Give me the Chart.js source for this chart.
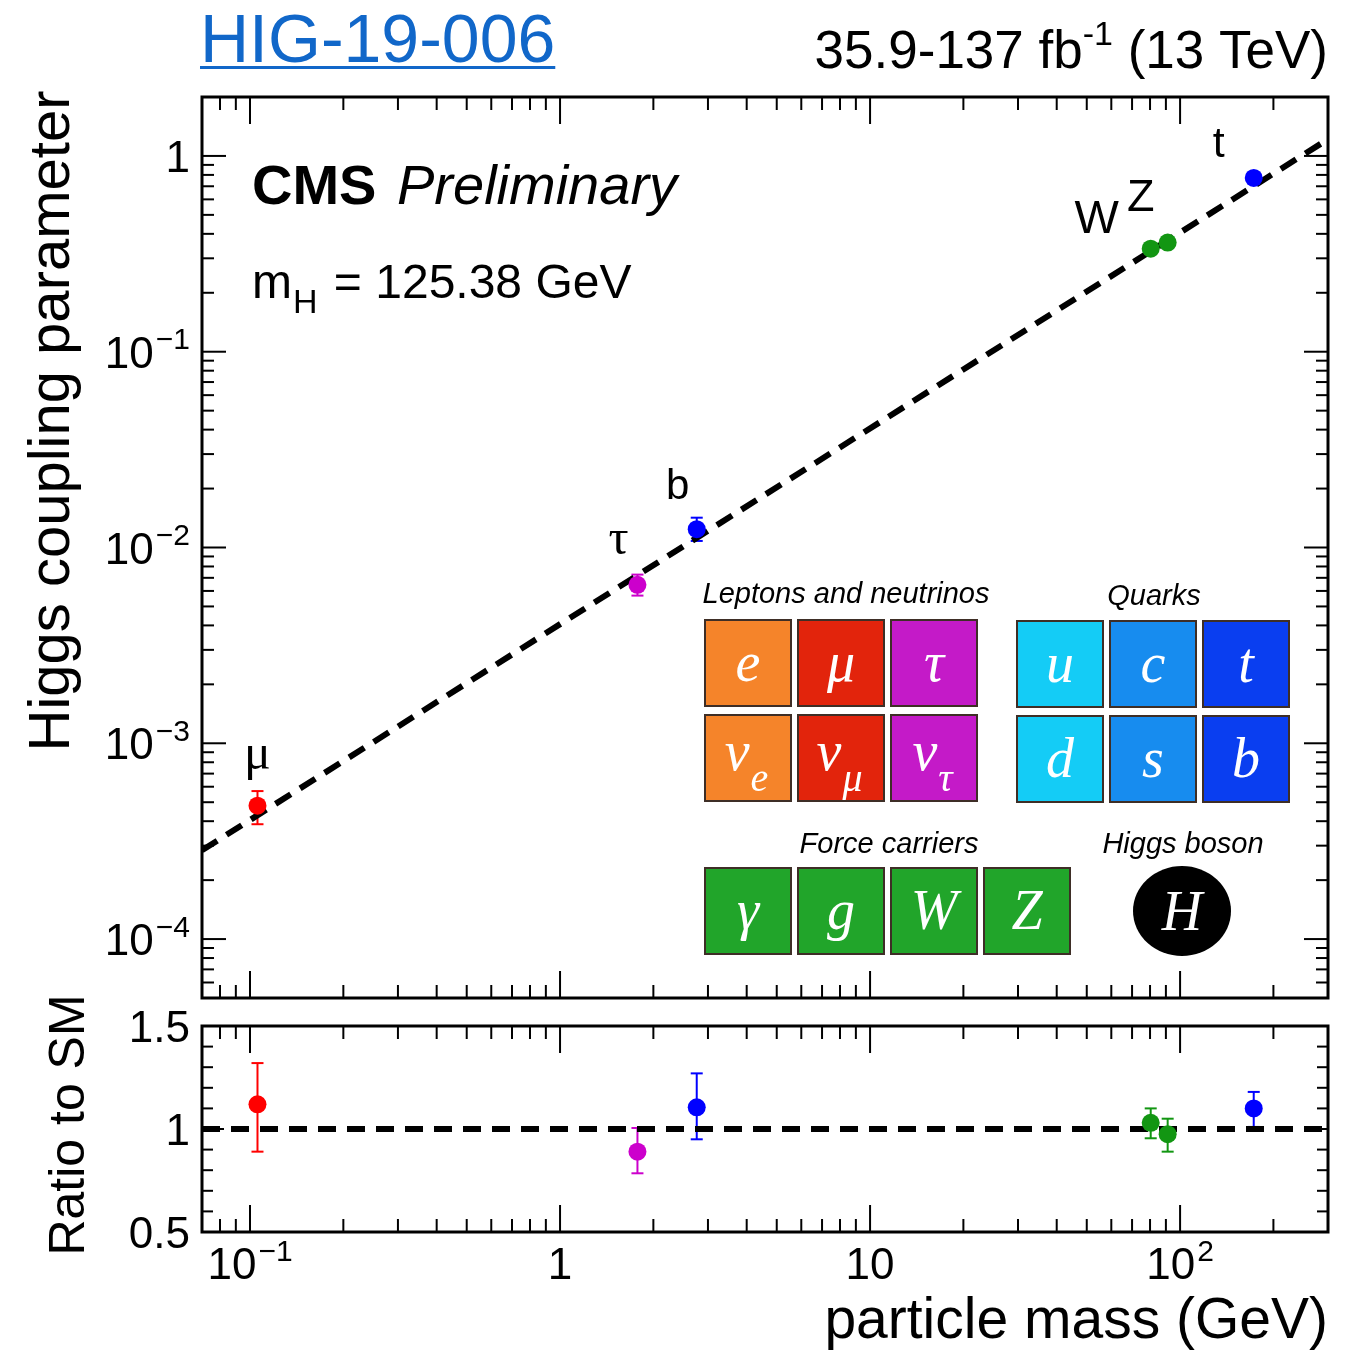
<!DOCTYPE html>
<html>
<head>
<meta charset="utf-8">
<title>HIG-19-006 Higgs couplings vs particle mass</title>
<script src="https://cdn.jsdelivr.net/npm/chart.js@4.4.1/dist/chart.umd.min.js"></script>
<style>
  html, body { margin: 0; padding: 0; background: #fff; }
  #wrap { position: relative; width: 1356px; height: 1353px; }
  #wrap canvas { position: absolute; left: 0; top: 0; }
</style>
</head>
<body>
<div id="wrap">
  <canvas id="couplingChart" width="1356" height="1353"></canvas>
  <canvas id="ratioChart" width="1356" height="1353"></canvas>
</div>
<script>
// ===== data =====
const particles = ["μ", "τ", "b", "W", "Z", "t"];
const masses = [0.1057, 1.777, 2.76, 80.4, 91.19, 172.8];
const couplings = [4.8e-4, 6.45e-3, 0.0124, 0.336, 0.361, 0.772];
const couplingHi = [5.7e-4, 7.27e-3, 0.0142, null, null, null];
const couplingLo = [3.86e-4, 5.68e-3, 0.0108, null, null, null];
const ratios = [1.12, 0.89, 1.105, 1.03, 0.975, 1.10];
const ratioHi = [1.32, 1.005, 1.27, 1.10, 1.05, 1.18];
const ratioLo = [0.89, 0.785, 0.95, 0.955, 0.89, 1.01];

// SM expectation (dashed lines)
const smMass = [0.07, 300];
const smCoupling = [2.84e-4, 1.218];
const smRatio = [1, 1];

// axis ranges and tick labels
const massRange = [0.07, 300];
const couplingRange = [5e-5, 2];
const ratioRange = [0.5, 1.5];
const xTickValues = [0.1, 1, 10, 100];
const xTickText = [["10", "−1"], ["1", ""], ["10", ""], ["10", "2"]];
const yTickValues = [1, 0.1, 0.01, 0.001, 0.0001];
const yTickText = [["1", ""], ["10", "−1"], ["10", "−2"], ["10", "−3"], ["10", "−4"]];
const ratioTickValues = [1.5, 1, 0.5];
const ratioTickText = ["1.5", "1", "0.5"];

// ===== styles =====
const SANS = '"Liberation Sans", Arial, Helvetica, sans-serif';
const SERIF = '"Liberation Serif", "Times New Roman", serif';
const pointColors = ["#ff0000", "#cc00cc", "#0000ff", "#129612", "#129612", "#0000ff"];
// label offsets (px) from each marker: [dx, dy, font, size]
const labelOffsets = [
  [0, -37, SERIF, 50], [-19, -31, SERIF, 50], [-19, -30, SANS, 42],
  [-54, -16, SANS, 47], [-27, -32, SANS, 45], [-35, -21, SANS, 43]
];

// particle table inset
const leptonCells = [
  ["e", "", "#f5842a"], ["μ", "", "#e2240c"], ["τ", "", "#c41ac8"],
  ["ν", "e", "#f5842a"], ["ν", "μ", "#e2240c"], ["ν", "τ", "#c41ac8"]
];
const quarkCells = [
  ["u", "", "#14ccf6"], ["c", "", "#178cef"], ["t", "", "#0a3ef0"],
  ["d", "", "#14ccf6"], ["s", "", "#178cef"], ["b", "", "#0a3ef0"]
];
const forceCells = [["γ", "", "#21a52a"], ["g", "", "#21a52a"], ["W", "", "#21a52a"], ["Z", "", "#21a52a"]];

// ===== helpers =====
function line(ctx, x1, y1, x2, y2) {
  ctx.beginPath();
  ctx.moveTo(x1, y1);
  ctx.lineTo(x2, y2);
  ctx.stroke();
}

// text with optional superscript, aligned as a whole
function powText(ctx, base, sup, x, y, align, size) {
  ctx.font = `${size}px ${SANS}`;
  const wb = ctx.measureText(base).width;
  const ss = Math.round(size * 0.68);
  ctx.font = `${ss}px ${SANS}`;
  const ws = sup ? ctx.measureText(sup).width + 2 : 0;
  const total = wb + ws;
  let x0 = x;
  if (align === "right") x0 = x - total;
  if (align === "center") x0 = x - total / 2;
  ctx.textAlign = "left";
  ctx.textBaseline = "alphabetic";
  ctx.font = `${size}px ${SANS}`;
  ctx.fillText(base, x0, y);
  if (sup) {
    ctx.font = `${ss}px ${SANS}`;
    ctx.fillText(sup, x0 + wb + 2, y - size * 0.42);
  }
}

function drawFrame(chart) {
  const { ctx, chartArea: a } = chart;
  ctx.save();
  ctx.strokeStyle = "#000";
  ctx.lineWidth = 3;
  ctx.strokeRect(a.left, a.top, a.right - a.left, a.bottom - a.top);
  ctx.restore();
}

function drawXLogTicks(chart, majorLen, minorLen) {
  const { ctx, chartArea: a, scales: { x } } = chart;
  ctx.save();
  ctx.strokeStyle = "#000";
  ctx.lineWidth = 2;
  for (let d = -2; d <= 3; d++) {
    for (let k = 1; k <= 9; k++) {
      const v = k * Math.pow(10, d);
      if (v <= x.min || v >= x.max) continue;
      const px = x.getPixelForValue(v);
      const len = k === 1 ? majorLen : minorLen;
      line(ctx, px, a.bottom, px, a.bottom - len);
      line(ctx, px, a.top, px, a.top + len);
    }
  }
  ctx.restore();
}

function drawYLogTicks(chart, majorLen, minorLen) {
  const { ctx, chartArea: a, scales: { y } } = chart;
  ctx.save();
  ctx.strokeStyle = "#000";
  ctx.lineWidth = 2;
  for (let d = -6; d <= 1; d++) {
    for (let k = 1; k <= 9; k++) {
      const v = k * Math.pow(10, d);
      if (v <= y.min || v >= y.max) continue;
      const py = y.getPixelForValue(v);
      const len = k === 1 ? majorLen : minorLen;
      line(ctx, a.left, py, a.left + len, py);
      line(ctx, a.right, py, a.right - len, py);
    }
  }
  ctx.restore();
}

function drawYLinTicks(chart, majorLen, minorLen) {
  const { ctx, chartArea: a, scales: { y } } = chart;
  ctx.save();
  ctx.strokeStyle = "#000";
  ctx.lineWidth = 2;
  for (let i = 5; i <= 15; i++) {
    const py = y.getPixelForValue(i / 10);
    const len = i % 5 === 0 ? majorLen : minorLen;
    line(ctx, a.left, py, a.left + len, py);
    line(ctx, a.right, py, a.right - len, py);
  }
  ctx.restore();
}

function drawErrorBars(chart, lo, hi) {
  const { ctx, scales: { x, y } } = chart;
  ctx.save();
  ctx.lineWidth = 2;
  masses.forEach((m, i) => {
    if (lo[i] == null) return;
    const px = x.getPixelForValue(m);
    const yl = y.getPixelForValue(lo[i]);
    const yh = y.getPixelForValue(hi[i]);
    ctx.strokeStyle = pointColors[i];
    line(ctx, px, yl, px, yh);
    line(ctx, px - 6, yl, px + 6, yl);
    line(ctx, px - 6, yh, px + 6, yh);
  });
  ctx.restore();
}

function drawCell(ctx, cell, x, y, w, h) {
  const [sym, sub, color] = cell;
  ctx.fillStyle = color;
  ctx.fillRect(x, y, w, h);
  ctx.strokeStyle = "#3e2e26";
  ctx.lineWidth = 2;
  ctx.strokeRect(x, y, w, h);
  ctx.fillStyle = "#fff";
  ctx.textBaseline = "alphabetic";
  if (!sub) {
    ctx.font = `italic 56px ${SERIF}`;
    ctx.textAlign = "center";
    ctx.fillText(sym, x + w / 2, y + h / 2 + 18);
  } else {
    ctx.font = `italic 56px ${SERIF}`;
    const w1 = ctx.measureText(sym).width;
    ctx.font = `italic 40px ${SERIF}`;
    const w2 = ctx.measureText(sub).width;
    const x0 = x + w / 2 - (w1 + w2) / 2 - 2;
    ctx.textAlign = "left";
    ctx.font = `italic 56px ${SERIF}`;
    ctx.fillText(sym, x0, y + h / 2 + 12);
    ctx.font = `italic 40px ${SERIF}`;
    ctx.fillText(sub, x0 + w1 + 1, y + h / 2 + 33);
  }
}

function drawParticleTable(ctx) {
  const w = 86, h = 86, px = 93, py = 95;
  ctx.save();
  leptonCells.forEach((c, i) => drawCell(ctx, c, 705 + (i % 3) * px, 620 + Math.floor(i / 3) * py, w, h));
  quarkCells.forEach((c, i) => drawCell(ctx, c, 1017 + (i % 3) * px, 621 + Math.floor(i / 3) * py, w, h));
  forceCells.forEach((c, i) => drawCell(ctx, c, 705 + i * px, 868, w, h));
  // Higgs
  ctx.fillStyle = "#000";
  ctx.beginPath();
  ctx.ellipse(1182, 911, 49, 45, 0, 0, Math.PI * 2);
  ctx.fill();
  ctx.fillStyle = "#fff";
  ctx.font = `italic 56px ${SERIF}`;
  ctx.textAlign = "center";
  ctx.fillText("H", 1182, 930);
  // group titles
  ctx.fillStyle = "#000";
  ctx.font = `italic 29px ${SANS}`;
  ctx.fillText("Leptons and neutrinos", 846, 603);
  ctx.fillText("Quarks", 1154, 605);
  ctx.fillText("Force carriers", 889, 853);
  ctx.fillText("Higgs boson", 1183, 853);
  ctx.restore();
}

// ===== top panel plugin =====
const couplingPlugin = {
  id: "couplingDecor",
  beforeDatasetsDraw(chart) {
    drawErrorBars(chart, couplingLo, couplingHi);
  },
  afterDatasetsDraw(chart) {
    const { ctx, chartArea: a, scales: { x, y } } = chart;
    drawFrame(chart);
    drawXLogTicks(chart, 27, 13);
    drawYLogTicks(chart, 24, 12);

    ctx.save();
    ctx.fillStyle = "#000";
    // y tick labels
    yTickValues.forEach((v, i) => {
      const py = y.getPixelForValue(v);
      powText(ctx, yTickText[i][0], yTickText[i][1], a.left - 12, py + 16, "right", 44);
    });

    // point labels
    particles.forEach((p, i) => {
      const [dx, dy, fam, size] = labelOffsets[i];
      ctx.font = `${size}px ${fam}`;
      ctx.textAlign = "center";
      ctx.textBaseline = "alphabetic";
      ctx.fillText(p, x.getPixelForValue(masses[i]) + dx, y.getPixelForValue(couplings[i]) + dy);
    });

    // CMS label
    ctx.textAlign = "left";
    ctx.font = `bold 56px ${SANS}`;
    ctx.fillText("CMS", 252, 204);
    ctx.font = `italic 56px ${SANS}`;
    ctx.fillText("Preliminary", 397, 204);
    ctx.font = `48px ${SANS}`;
    ctx.fillText("m", 252, 298);
    const wm = ctx.measureText("m").width;
    ctx.font = `34px ${SANS}`;
    ctx.fillText("H", 252 + wm + 1, 313);
    const wh = ctx.measureText("H").width;
    ctx.font = `48px ${SANS}`;
    ctx.fillText(" = 125.38 GeV", 252 + wm + wh + 4, 298);

    drawParticleTable(ctx);

    // header
    ctx.fillStyle = "#1167c9";
    ctx.font = `68px ${SANS}`;
    ctx.textAlign = "left";
    ctx.fillText("HIG-19-006", 200, 62);
    const wl = ctx.measureText("HIG-19-006").width;
    ctx.fillRect(200, 66, wl, 3);

    ctx.fillStyle = "#000";
    const size = 53;
    ctx.font = `${size}px ${SANS}`;
    const t1 = "35.9-137 fb", t3 = " (13 TeV)";
    const w1 = ctx.measureText(t1).width, w3 = ctx.measureText(t3).width;
    ctx.font = `34px ${SANS}`;
    const w2 = ctx.measureText("-1").width;
    const x0 = 1328 - (w1 + w2 + w3);
    ctx.font = `${size}px ${SANS}`;
    ctx.fillText(t1, x0, 68);
    ctx.fillText(t3, x0 + w1 + w2, 68);
    ctx.font = `34px ${SANS}`;
    ctx.fillText("-1", x0 + w1, 45);

    // y title
    ctx.translate(69, 421);
    ctx.rotate(-Math.PI / 2);
    ctx.font = `58px ${SANS}`;
    ctx.textAlign = "center";
    ctx.fillText("Higgs coupling parameter", 0, 0);
    ctx.restore();
  }
};

// ===== bottom panel plugin =====
const ratioPlugin = {
  id: "ratioDecor",
  beforeDatasetsDraw(chart) {
    drawErrorBars(chart, ratioLo, ratioHi);
  },
  afterDatasetsDraw(chart) {
    const { ctx, chartArea: a, scales: { x, y } } = chart;
    drawFrame(chart);
    drawXLogTicks(chart, 27, 13);
    drawYLinTicks(chart, 22, 11);

    ctx.save();
    ctx.fillStyle = "#000";
    ratioTickValues.forEach((v, i) => {
      powText(ctx, ratioTickText[i], "", a.left - 12, y.getPixelForValue(v) + 16, "right", 44);
    });
    xTickValues.forEach((v, i) => {
      powText(ctx, xTickText[i][0], xTickText[i][1], x.getPixelForValue(v), 1279, "center", 44);
    });

    ctx.font = `57px ${SANS}`;
    ctx.textAlign = "right";
    ctx.fillText("particle mass (GeV)", 1328, 1338);

    ctx.translate(84, 1125);
    ctx.rotate(-Math.PI / 2);
    ctx.font = `50px ${SANS}`;
    ctx.textAlign = "center";
    ctx.fillText("Ratio to SM", 0, 0);
    ctx.restore();
  }
};

function baseOptions(yScale, padding) {
  return {
    responsive: false,
    animation: false,
    devicePixelRatio: 1,
    events: [],
    layout: { padding },
    plugins: { legend: { display: false }, tooltip: { enabled: false } },
    scales: {
      x: { type: "logarithmic", min: massRange[0], max: massRange[1], display: false },
      y: yScale
    }
  };
}

// ===== top panel =====
new Chart(document.getElementById("couplingChart"), {
  type: "scatter",
  data: {
    datasets: [
      {
        label: "measured",
        data: masses.map((m, i) => ({ x: m, y: couplings[i] })),
        pointBackgroundColor: pointColors,
        pointBorderWidth: 0,
        pointRadius: 9
      },
      {
        type: "line",
        label: "SM",
        data: smMass.map((m, i) => ({ x: m, y: smCoupling[i] })),
        borderColor: "#000",
        borderWidth: 6,
        borderDash: [18, 11],
        pointRadius: 0,
        fill: false
      }
    ]
  },
  options: baseOptions(
    { type: "logarithmic", min: couplingRange[0], max: couplingRange[1], display: false },
    { left: 202, right: 28, top: 97, bottom: 1353 - 998 }
  ),
  plugins: [couplingPlugin]
});

// ===== ratio panel =====
new Chart(document.getElementById("ratioChart"), {
  type: "scatter",
  data: {
    datasets: [
      {
        label: "ratio",
        data: masses.map((m, i) => ({ x: m, y: ratios[i] })),
        pointBackgroundColor: pointColors,
        pointBorderWidth: 0,
        pointRadius: 9
      },
      {
        type: "line",
        label: "SM",
        data: smMass.map((m, i) => ({ x: m, y: smRatio[i] })),
        borderColor: "#000",
        borderWidth: 6,
        borderDash: [18, 11],
        pointRadius: 0,
        fill: false
      }
    ]
  },
  options: baseOptions(
    { type: "linear", min: ratioRange[0], max: ratioRange[1], display: false },
    { left: 202, right: 28, top: 1026, bottom: 1353 - 1232 }
  ),
  plugins: [ratioPlugin]
});
</script>
</body>
</html>
